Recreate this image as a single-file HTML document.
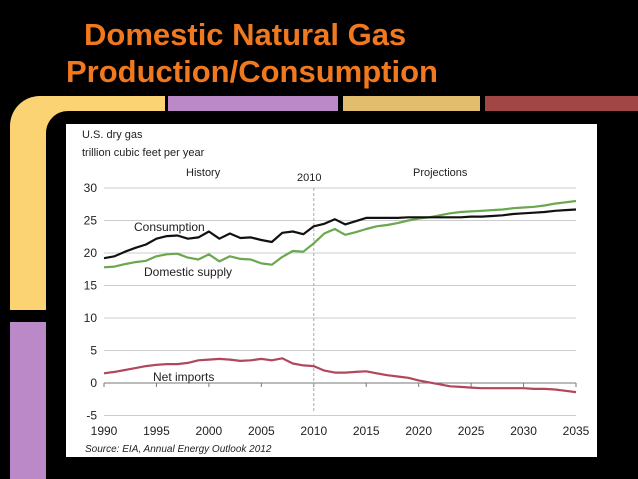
<!DOCTYPE html>
<html><head><meta charset="utf-8"><style>
body{margin:0;width:638px;height:479px;background:#000;overflow:hidden;position:relative;font-family:"Liberation Sans",sans-serif}
.a{position:absolute}
</style></head><body>
<div class="a" style="left:66px;top:16px;color:#f0781e;font-weight:bold;font-size:31px;line-height:37px;white-space:nowrap">
<div style="padding-left:18px">Domestic Natural Gas</div><div>Production/Consumption</div></div>
<div class="a" style="left:10px;top:96px;width:155px;height:214px;background:#fcd372;border-top-left-radius:30px"></div>
<div class="a" style="left:46px;top:111px;width:200px;height:210px;background:#000;border-top-left-radius:22px"></div>
<div class="a" style="left:168px;top:96px;width:170px;height:15px;background:#bb88c8"></div>
<div class="a" style="left:343px;top:96px;width:137px;height:15px;background:#e3bd6e"></div>
<div class="a" style="left:485px;top:96px;width:153px;height:15px;background:#a24545"></div>
<div class="a" style="left:10px;top:322px;width:36px;height:157px;background:#bb88c8"></div>
<svg class="a" style="left:0;top:0" width="638" height="479">
<rect x="66" y="124" width="531" height="333" fill="#fff"/>
<g id="g" font-family="Liberation Sans, sans-serif" font-size="11" fill="#222"></g>
</svg>
<script>
const years=[];for(let y=1990;y<=2035;y++)years.push(y);
const consumption=[19.2,19.5,20.2,20.8,21.3,22.2,22.6,22.7,22.2,22.4,23.3,22.2,23.0,22.3,22.4,22.0,21.7,23.1,23.3,22.9,24.1,24.5,25.2,24.4,24.9,25.4,25.4,25.4,25.4,25.5,25.5,25.5,25.5,25.5,25.5,25.6,25.6,25.7,25.8,26.0,26.1,26.2,26.3,26.5,26.6,26.7];
const supply=[17.8,17.9,18.3,18.6,18.8,19.5,19.8,19.9,19.3,19.0,19.8,18.7,19.5,19.1,19.0,18.4,18.2,19.4,20.3,20.2,21.5,23.0,23.7,22.8,23.2,23.7,24.1,24.3,24.6,25.0,25.3,25.5,25.8,26.1,26.3,26.4,26.5,26.6,26.7,26.9,27.0,27.1,27.3,27.6,27.8,28.0];
const netImports=[1.5,1.7,2.0,2.3,2.6,2.8,2.9,2.9,3.1,3.5,3.6,3.7,3.6,3.4,3.5,3.7,3.5,3.8,3.0,2.7,2.6,1.9,1.6,1.6,1.7,1.8,1.5,1.2,1.0,0.8,0.4,0.1,-0.2,-0.5,-0.6,-0.7,-0.8,-0.8,-0.8,-0.8,-0.8,-0.9,-0.9,-1.0,-1.2,-1.4];
const yTicks=[30,25,20,15,10,5,0,-5];
const xTicks=[1990,1995,2000,2005,2010,2015,2020,2025,2030,2035];
const X=y=>104+(y-1990)*(576-104)/45;
const Y=v=>383-v*6.5;
const g=document.getElementById('g');const NS='http://www.w3.org/2000/svg';
function mk(t,a,txt){const e=document.createElementNS(NS,t);for(const k in a)e.setAttribute(k,a[k]);if(txt!=null)e.textContent=txt;g.appendChild(e);return e;}
let e;
e=mk('text',{x:82,y:138,'font-size':11},'U.S. dry gas');
e=mk('text',{x:82,y:156,'font-size':11},'trillion cubic feet per year');
e=mk('text',{x:186,y:176,'font-size':11},'History');
e=mk('text',{x:297,y:181,'font-size':11},'2010');
e=mk('text',{x:413,y:176,'font-size':11},'Projections');
yTicks.forEach(v=>{
 if(v!==0){e=mk('line',{x1:X(1990),x2:X(2035),y1:Y(v),y2:Y(v),stroke:'#ccc','stroke-width':1});}
 e=mk('text',{x:97,y:Y(v)+4,'text-anchor':'end','font-size':12},String(v));
});
e=mk('line',{x1:X(1990),x2:X(2035),y1:Y(0),y2:Y(0),stroke:'#777','stroke-width':1});
xTicks.forEach(v=>{
 e=mk('line',{x1:X(v),x2:X(v),y1:Y(0),y2:Y(0)+4,stroke:'#777'});
 e=mk('text',{x:X(v),y:435,'text-anchor':'middle','font-size':12},String(v));
});
e=mk('line',{x1:X(2010),x2:X(2010),y1:Y(30),y2:Y(-4.5),stroke:'#aaa','stroke-dasharray':'3,2'});
function line(vals,col,name){const p=vals.map((v,i)=>X(years[i]).toFixed(1)+','+Y(v).toFixed(1)).join(' ');
 const l=mk('polyline',{points:p,fill:'none',stroke:col,'stroke-width':2.2,'stroke-linejoin':'round'});}
line(netImports,'#b0485a','net-imports-line');
line(supply,'#6aa84f','domestic-supply-line');
line(consumption,'#111','consumption-line');
e=mk('text',{x:134,y:231,'font-size':12},'Consumption');
e=mk('text',{x:144,y:276,'font-size':12},'Domestic supply');
e=mk('text',{x:153,y:381,'font-size':12},'Net imports');
e=mk('text',{x:85,y:452,'font-size':10,'font-style':'italic'},'Source:  EIA, Annual Energy Outlook 2012');
</script>
</body></html>
